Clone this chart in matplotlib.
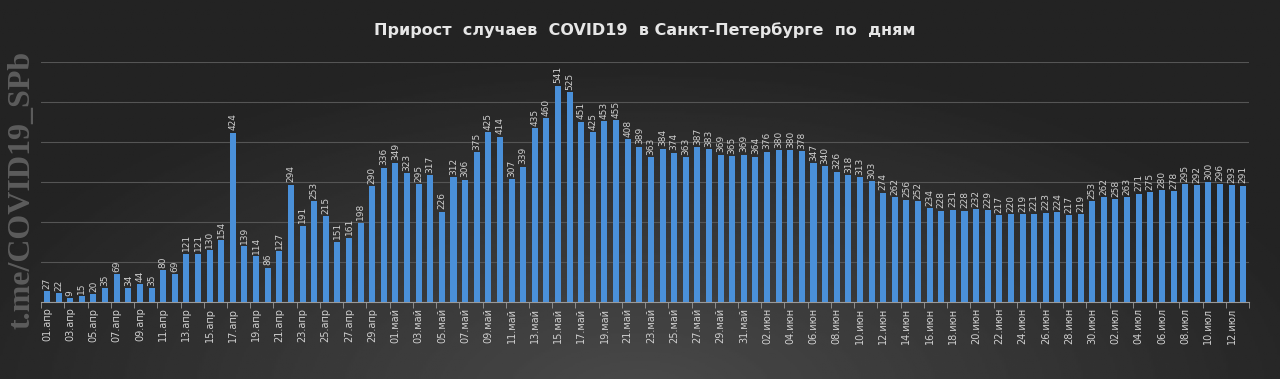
import numpy as np
import matplotlib.pyplot as plt
import datetime as dt

months = {4: 'апр', 5: 'май', 6: 'июн', 7: 'июл'}

cases = [27, 22, 9, 15, 20, 35, 69, 34, 44, 35,
         80, 69, 121, 121, 130, 154, 424, 139, 114, 86,
         127, 294, 191, 253, 215, 151, 161, 198, 290, 336,
         349, 323, 295, 317, 226, 312, 306, 375, 425, 414,
         307, 339, 435, 460, 541, 525, 451, 425, 453, 455,
         408, 389, 363, 384, 374, 363, 387, 383, 369, 365,
         369, 364, 376, 380, 380, 378, 347, 340, 326, 318,
         313, 303, 274, 262, 256, 252, 234, 228, 231, 228,
         232, 229, 217, 220, 219, 221, 223, 224, 217, 219,
         253, 262, 258, 263, 271, 275, 280, 278, 295, 292,
         300, 296, 293, 291]

start = dt.date(2020, 4, 1)
dates = [start + dt.timedelta(days=i) for i in range(len(cases))]
labels = ['%02d.%s' % (d.day, months[d.month]) for d in dates]

fig = plt.figure(figsize=(12.8, 3.79), dpi=100)

# dark background with a soft light spot near the bottom middle
bg = fig.add_axes([0, 0, 1, 1], zorder=-10)
yy, xx = np.mgrid[0:1:200j, 0:1:600j]
r = np.sqrt(((xx - 0.5) / 0.55) ** 2 + ((yy - 1.05) / 0.9) ** 2)
shade = 0.14 + 0.15 * np.clip(1 - r, 0, 1)
bg.imshow(shade, cmap='gray', vmin=0, vmax=1, aspect='auto', extent=[0, 1, 0, 1])
bg.axis('off')

fig.text(0.0175, 0.5, 't.me/COVID19_SPb', rotation=90, ha='center', va='center',
         family='Liberation Serif', fontweight='bold', fontsize=23, color='#5c5c5c')

ax = fig.add_axes([0.0322, 0.203, 0.9436, 0.633])
ax.patch.set_alpha(0)
x = np.arange(len(cases))
ax.bar(x, cases, width=0.52, color='#4a90d9', zorder=3)
for xi, v in zip(x, cases):
    ax.text(xi, v + 6, str(v), rotation=90, ha='center', va='bottom',
            fontsize=6.5, color='#cfcfcf', zorder=4)

ax.set_xlim(-0.5, len(cases) - 0.5)
ax.set_ylim(0, 600)
ax.set_yticks(range(0, 601, 100))
ax.yaxis.grid(True, color='#555555', linewidth=0.8, zorder=0)
ax.tick_params(axis='y', length=0, labelleft=False)

ax.set_xticks(x[::2])
ax.set_xticklabels(labels[::2], rotation=90, fontsize=7, color='#d0d0d0')
ax.tick_params(axis='x', length=0, pad=4)
ax.set_xticks(np.arange(-0.5, len(cases), 2), minor=True)
ax.tick_params(axis='x', which='minor', length=4, color='#9a9a9a')

for s in ['top', 'right', 'left']:
    ax.spines[s].set_visible(False)
ax.spines['bottom'].set_color('#9a9a9a')

fig.text(0.504, 0.92, 'Прирост  случаев  COVID19  в Санкт-Петербурге  по  дням',
         ha='center', va='center', fontsize=11.5, fontweight='bold', color='#e6e6e6')

fig.savefig('out.png', dpi=100)
